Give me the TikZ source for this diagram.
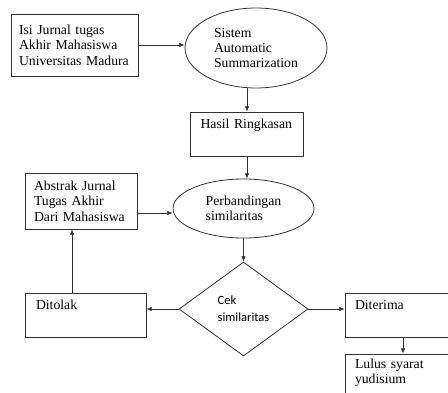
\documentclass[tikz,border=0pt]{standalone}
\usepackage{fontspec}
\setmainfont{Liberation Serif}
\newfontfamily\calibrifont{Carlito}
\usetikzlibrary{arrows.meta, positioning, calc, shapes.geometric}

\begin{document}
\begin{tikzpicture}[x=0.75pt, y=-0.75pt, line width=0.6pt,
        every node/.style={draw=black!80, inner sep=0pt, font=\fontsize{10.3}{11.6}\selectfont},
        box/.style={rectangle, align=left},
        topbox/.style={box, text height=7pt, inner ysep=5.5pt, text depth=15pt},
        arrow/.style={draw=black!80, -{Latex[length=4pt, width=3.5pt]}}]
        \useasboundingbox (0,0) rectangle (448,392);
        \clip (0,0) rectangle (448,392);

        % Define nodes
        \node[box, text width=83.25pt, inner xsep=6pt, minimum height=46.5pt] (isi) at (74.5,45) {Isi Jurnal tugas\\Akhir Mahasiswa\\Universitas Madura};
        \node[ellipse, align=left, minimum width=106.5pt, minimum height=60pt] (sistem) at (256,48) {Sistem\\Automatic\\Summarization};
        \node[topbox, text width=69.75pt, inner xsep=7.5pt] (hasil) at (247,134) {Hasil Ringkasan};
        \node[ellipse, align=left, minimum width=105.75pt, minimum height=44.25pt] (perbandingan) at (243.5,208.5) {Perbandingan\\similaritas};
        \node[box, text width=70.5pt, inner xsep=6.75pt, minimum height=42pt] (abstrak) at (81,201) {Abstrak Jurnal\\Tugas Akhir\\Dari Mahasiswa};
        \node[diamond, align=left, minimum width=96.75pt, minimum height=70.5pt, font=\calibrifont\fontsize{9.4}{12.7}\selectfont] (cek) at (243.5,309) {Cek\\similaritas};
        \node[topbox, text width=74.25pt, inner xsep=8.25pt] (ditolak) at (85.5,315) {Ditolak};
        \node[topbox, text width=72pt, inner xsep=7.5pt] (diterima) at (403,315) {Diterima};
        \node[box, text width=72pt, inner xsep=7.5pt, minimum height=37.5pt] (lulus) at (403,379) {Lulus syarat\\yudisium\\~};

        % Draw arrows between the steps
        \draw[arrow] (isi.east) -- (isi.east -| sistem.west);
        \draw[arrow] (hasil.north |- sistem.south) -- (hasil.north);
        \draw[arrow] (hasil.south) -- (hasil.south |- perbandingan.north);
        \draw[arrow] ([yshift=-9pt]abstrak.east) -- ([yshift=-9pt]abstrak.east -| perbandingan.west);
        \draw[arrow] (perbandingan.south) -- (cek.north);

        % Draw arrows out of the decision
        \draw[arrow] (cek.west) -- (cek.west -| ditolak.east);
        \draw[arrow] (cek.east) -- (cek.east -| diterima.west);
        \draw[arrow] ([xshift=-10.1pt]ditolak.north) -- ([xshift=-10.1pt]ditolak.north |- abstrak.south);
        \draw[arrow] (diterima.south) -- (lulus.north);

    \end{tikzpicture}
\end{document}
